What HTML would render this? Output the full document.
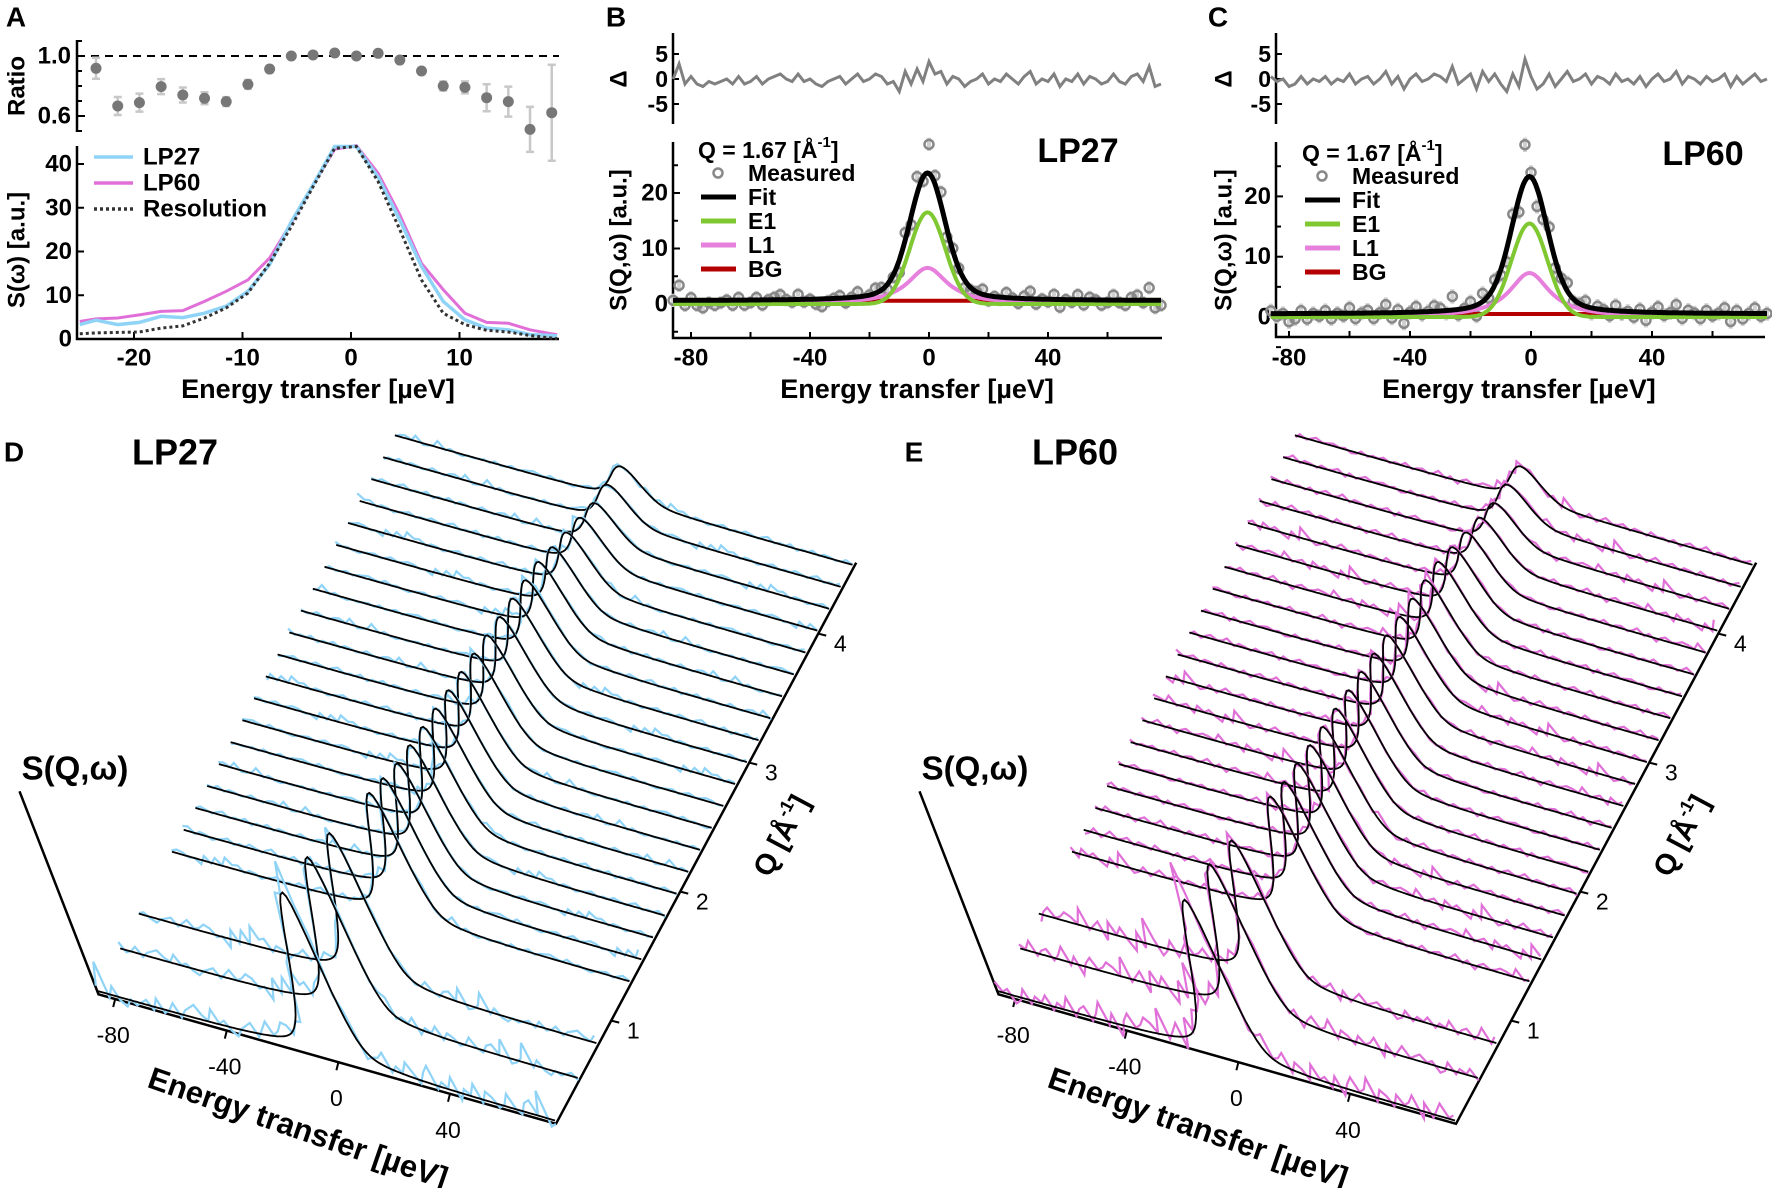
<!DOCTYPE html>
<html><head><meta charset="utf-8"><style>
html,body{margin:0;padding:0;background:#fff}
svg{display:block;font-family:"Liberation Sans",Arial,sans-serif}
</style></head><body>
<svg id="fig" width="1772" height="1188" viewBox="0 0 1772 1188"></svg>
<script>
// ---------- Panel A data ----------
const aRatioE = [-23.5,-21.5,-19.5,-17.5,-15.5,-13.5,-11.5,-9.5,-7.5,-5.5,-3.5,-1.5,0.5,2.5,4.5,6.5,8.5,10.5,12.5,14.5,16.5,18.5];
const aRatio = [0.918,0.667,0.689,0.796,0.74,0.718,0.696,0.811,0.913,1.0,1.007,1.02,1.0,1.018,0.973,0.9,0.8,0.791,0.722,0.696,0.511,0.622];
const aRatioErr = [0.07,0.06,0.06,0.05,0.05,0.04,0.03,0.03,0.02,0.015,0.01,0.01,0.01,0.01,0.01,0.02,0.03,0.04,0.09,0.1,0.15,0.32];
const aLineE = [-25,-23.5,-21.5,-19.5,-17.5,-15.5,-13.5,-11.5,-9.5,-7.5,-5.5,-3.5,-1.5,0.5,2.5,4.5,6.5,8.5,10.5,12.5,14.5,16.5,18.5,19];
const aLP27 = [3.3,4.3,3.3,3.8,5.2,4.9,5.9,7.5,10.9,17,26.8,35.2,44,44,37,27.2,16.6,8.6,4.4,2.5,2.1,1,0.8,0.7];
const aLP60 = [4,4.6,4.8,5.5,6.3,6.5,8.6,10.9,13.5,18.5,26.5,35.2,43.4,44.2,37.9,28.4,17.3,11.3,5.9,3.8,3.6,2.1,1.2,1.0];
const aRes = [1.2,1.4,1.5,1.6,2.5,3.0,4.8,7.1,10.5,17.3,25.7,34.8,43.6,44,36,25,13.5,5.9,3.3,2.0,1.6,0.8,0.2,0.1];
const aXTicks = [-20,-10,0,10];
const aYTicks = [0,10,20,30,40];
// ---------- Panels B / C data ----------
const fitE0 = -86, fitStep = 2;
const resB = [0,3,-1,0.5,-1,-1.5,-0.5,-1,-0.5,0, -1,0.5,-1,-0.5,0.5,-1,0,0.5,1,0, -0.5,1,-0.5,0,-1,-1.5,-0.5,0,0.5,-1, 0,1,-0.5,0,1,0.5,-1,-0.5,-2.5,1.5, -1,2,-0.5,3.5,1,1.5,-1,0.5,0,-1.5, -0.5,0,1,-1,0,-0.5,1,0,-1,0.5, 1.5,-1,0,-0.5,1,-1.5,0,-0.5,1,-1, 0.5,0,-1,-0.5,1,-0.5,-1,0.5,1,-0.5, 2.5,-1.5,-1];
const resC = [0.5,-0.5,0,-1.5,-1,0.5,-1,0,-0.5,0.5, -1,0,-0.5,1,-1,0,0.5,-1,0,1.5, -1,0.5,-2,0,1,-0.5,0,1,0.5,-0.5, 2.5,-1,0,1,-2,1.5,-0.5,1,-1,-2.5, 1,-1.5,4,0.5,-2,-1,1,-1.5,0,1.5, -0.5,0,1,-1,0.5,0,-1,1,-0.5,0, -1,0.5,-1.5,0,1,-0.5,0,1.5,-1,0.5, 0,-1,0.5,-0.5,0,1,-1.5,0.5,-1,0, 1,-0.5,0];
const fitB = {e1:16.5, l1:6.5, bg:0.6, c:-0.5};
const fitC = {e1:15.5, l1:7.3, bg:0.5, c:-0.5};
const bcXTicks = [-80,-40,0,40];
const bcYTicks = [0,10,20];
const dTicks = [-5,0,5];
// ---------- Panels D / E data ----------
const qRows = [0.2,0.53,0.8,1.28,1.45,1.62,1.79,1.96,2.13,2.30,2.47,2.64,2.81,2.98,3.15,3.32,3.49,3.66,3.83,4.00,4.17,4.34,4.51];
const ampD = [23,22,20.5,17.5,16.5,15.5,15,14.5,14,13.5,13,12.5,12,11.5,11,10.5,10,9,8,7,6,5.5,5];
const ampE = [22,21,19.5,17,16,15.5,15,14.5,14,13.5,13,12.5,12,11.5,11,10.5,10,9,8,7,6,5.5,5];
const noiseD = [9,6,5,2.5,2.5,2,2,2,2,2,2,2,2,2,2,2,2,2,2,2,2,2,2];
const noiseE = [9,7,6,3,3,3,2.5,2.5,2.5,2.5,2.5,2.5,2.5,2.5,2.5,2.5,2.5,2.5,2.5,2.5,2.5,2.5,2.5];
const wfETicks = [-80,-40,0,40];
const wfQTicks = [1,2,3,4];

const root = document.getElementById('fig');
const NS = root.namespaceURI;
function mk(tag, attrs, parent){
  const e = document.createElementNS(NS, tag);
  for (const k in attrs) e.setAttribute(k, attrs[k]);
  (parent || root).appendChild(e);
  return e;
}
function txt(x, y, s, size, opts, parent){
  opts = opts || {};
  const e = mk('text', {x:x, y:y, 'font-size':size, 'font-weight':opts.w || 'bold', 'text-anchor':opts.a || 'middle', 'dominant-baseline':'central', fill:'#000'}, parent);
  if (opts.rot !== undefined) e.setAttribute('transform', 'rotate(' + opts.rot + ' ' + x + ' ' + y + ')');
  e.textContent = s;
  return e;
}
function pth(pts){ return pts.map((p,i)=>(i?'L':'M')+p[0].toFixed(1)+' '+p[1].toFixed(1)).join(''); }
function gauss(E,a,c,f){ return a*Math.exp(-4*Math.LN2*(E-c)*(E-c)/(f*f)); }
function lor(E,a,c,h){ return a/(1+((E-c)/h)*((E-c)/h)); }

// ================= Panel A =================
const gA = mk('g', {});


const xA = E => 351 + E*10.85;
const yR = r => 56 + (1-r)*150;
const yA = s => 339 - s*4.375;
let t = txt(16, 17, 'A', 28, {}, gA);


let ax = mk('path', {d:'M77 40 V132 M77 146 V339 H559', stroke:'#000', 'stroke-width':2.5, fill:'none'}, gA);


let dl = mk('line', {x1:77, x2:559, y1:yR(1), y2:yR(1), stroke:'#000', 'stroke-width':2, 'stroke-dasharray':'8 6'}, gA);


[1.1,1.0,0.9,0.8,0.7,0.6,0.5].forEach(r=>{
  const tk = mk('line', {x1:77, x2:(r===1.0||r===0.6)?85:82, y1:yR(r), y2:yR(r), stroke:'#000', 'stroke-width':2}, gA);
  
  
});
[['1.0',1.0],['0.6',0.6]].forEach(p=>{
  const l = txt(71, yR(p[1]), p[0], 24, {a:'end'}, gA);
  
  
});
t = txt(17, 86, 'Ratio', 24, {rot:-90}, gA);


aRatioE.forEach((E,i)=>{
  const eb = mk('path', {d:'M'+xA(E)+' '+yR(aRatio[i]+aRatioErr[i])+' V'+yR(aRatio[i]-aRatioErr[i])+' M'+(xA(E)-4)+' '+yR(aRatio[i]+aRatioErr[i])+' h8 M'+(xA(E)-4)+' '+yR(aRatio[i]-aRatioErr[i])+' h8', stroke:'#c8c8c8', 'stroke-width':2.5, fill:'none'}, gA);
  
  
  const c = mk('circle', {cx:xA(E), cy:yR(aRatio[i]), r:5.5, fill:'#777'}, gA);
  
  
});
aXTicks.forEach(v=>{
  const tk = mk('line', {x1:xA(v), x2:xA(v), y1:339, y2:332, stroke:'#000', 'stroke-width':2}, gA);
  
  
  const l = txt(xA(v), 358, String(v), 24, {}, gA);
  
  
});
aYTicks.forEach(v=>{
  const tk = mk('line', {x1:77, x2:84, y1:yA(v), y2:yA(v), stroke:'#000', 'stroke-width':2}, gA);
  
  
  const l = txt(72, yA(v), String(v), 24, {a:'end'}, gA);
  
  
});
t = txt(318, 389, 'Energy transfer [µeV]', 27, {}, gA);


t = txt(17, 250, 'S(ω) [a.u.]', 24, {rot:-90}, gA);


let ln = mk('path', {d:pth(aLineE.map((E,i)=>[xA(E),yA(aLP60[i])])), stroke:'#e070d8', 'stroke-width':3, fill:'none'}, gA);


ln = mk('path', {d:pth(aLineE.map((E,i)=>[xA(E),yA(aLP27[i])])), stroke:'#8fd3f7', 'stroke-width':3.5, fill:'none'}, gA);


ln = mk('path', {d:pth(aLineE.map((E,i)=>[xA(E),yA(aRes[i])])), stroke:'#333', 'stroke-width':3, fill:'none', 'stroke-dasharray':'3 3'}, gA);


[['LP27','#8fd3f7',157,''],['LP60','#e070d8',183,''],['Resolution','#333',209,'3 3']].forEach(p=>{
  const l = mk('line', {x1:94, x2:133, y1:p[2], y2:p[2], stroke:p[1], 'stroke-width':3.5, 'stroke-dasharray':p[3]}, gA);
  
  
  const tt = txt(143, p[2], p[0], 24, {a:'start'}, gA);
  
  
});

// ================= Panels B / C =================
function fitPanel(cfg){
  const g = mk('g', {});
  
  
  const xS = E => cfg.x0 + E*cfg.kx;
  const yS = s => cfg.y0 - s*cfg.ky;
  const yD = d => cfg.d0 - d*cfg.kd;
  const p = cfg.fit;
  const fitF = E => gauss(E,p.e1,p.c,14) + lor(E,p.l1,p.c,8) + p.bg;
  let l = txt(cfg.lblX, 17, cfg.letter, 28, {}, g);
  
  
  const axp = mk('path', {d:'M'+cfg.ax+' '+cfg.dTop+' V'+cfg.dBot+' M'+cfg.ax+' 142 V'+cfg.xAxY+' H'+cfg.axR, stroke:'#000', 'stroke-width':2.5, fill:'none'}, g);
  
  
  [-80,-60,-40,-20,0,20,40,60].forEach(v=>{
    const tk = mk('line', {x1:xS(v), x2:xS(v), y1:cfg.xAxY, y2:cfg.xAxY-6, stroke:'#000', 'stroke-width':2}, g);
    
    
  });
  bcXTicks.forEach(v=>{
    const tl = txt(xS(v), 358, String(v), 24, {}, g);
    
    
  });
  [-5,0,5,10,15,20,25].forEach(v=>{
    const tk = mk('line', {x1:cfg.ax, x2:cfg.ax+(v%10===0?7:5), y1:yS(v), y2:yS(v), stroke:'#000', 'stroke-width':2}, g);
    
    
  });
  bcYTicks.forEach(v=>{
    const tl = txt(cfg.ax-5, yS(v), String(v), 24, {a:'end'}, g);
    
    
  });
  dTicks.forEach(v=>{
    const tk = mk('line', {x1:cfg.ax, x2:cfg.ax+6, y1:yD(v), y2:yD(v), stroke:'#000', 'stroke-width':2}, g);
    
    
    const tl = txt(cfg.ax-5, yD(v), String(v), 23, {a:'end'}, g);
    
    
  });
  l = txt(cfg.ylX, yD(0), 'Δ', 24, {rot:-90}, g);
  
  
  l = txt(cfg.ylX, 240, 'S(Q,ω) [a.u.]', 24, {rot:-90}, g);
  
  
  l = txt(xS(-4), 389, 'Energy transfer [µeV]', 27, {}, g);
  
  
  const resid = cfg.res;
  const dl2 = mk('path', {d:pth(resid.map((d,k)=>[xS(fitE0+k*fitStep), yD(d)])), stroke:'#808080', 'stroke-width':3, fill:'none'}, g);
  
  
  resid.forEach((d,k)=>{
    const E = fitE0 + k*fitStep;
    const v = fitF(E) + d*0.9 + (Math.abs(E)<8 ? d*0.6 : 0);
    const eb = mk('line', {x1:xS(E), x2:xS(E), y1:yS(v+1.2), y2:yS(v-1.2), stroke:'#d0d0d0', 'stroke-width':4}, g);
    
    
  });
  resid.forEach((d,k)=>{
    const E = fitE0 + k*fitStep;
    const v = fitF(E) + d*0.9 + (Math.abs(E)<8 ? d*0.6 : 0);
    const c = mk('circle', {cx:xS(E), cy:yS(v), r:4.5, fill:'none', stroke:'#888', 'stroke-width':2.5}, g);
    
    
  });
  const Es = []; for (let E=-86; E<=78; E+=0.5) Es.push(E);
  let c1 = mk('path', {d:pth(Es.map(E=>[xS(E), yS(p.bg)])), stroke:'#b40000', 'stroke-width':4, fill:'none'}, g);
  
  
  c1 = mk('path', {d:pth(Es.map(E=>[xS(E), yS(lor(E,p.l1,p.c,8))])), stroke:'#e680dc', 'stroke-width':4, fill:'none'}, g);
  
  
  c1 = mk('path', {d:pth(Es.map(E=>[xS(E), yS(gauss(E,p.e1,p.c,14))])), stroke:'#80c832', 'stroke-width':4, fill:'none'}, g);
  
  
  c1 = mk('path', {d:pth(Es.map(E=>[xS(E), yS(fitF(E))])), stroke:'#000', 'stroke-width':5, fill:'none'}, g);
  
  
  // legend
  const qt = mk('text', {x:cfg.lgX, y:cfg.lgY, 'font-size':23, 'font-weight':'bold', 'dominant-baseline':'central'}, g);
  
  
  qt.appendChild(document.createTextNode('Q = 1.67 [Å'));
  const sup = mk('tspan', {dy:-8, 'font-size':15}, qt);
  
  
  sup.textContent = '-1';
  const cl = mk('tspan', {dy:8}, qt);
  
  
  cl.textContent = ']';
  const mc = mk('circle', {cx:cfg.lgX+20, cy:cfg.lgY+23, r:4.5, fill:'none', stroke:'#888', 'stroke-width':2.5}, g);
  
  
  l = txt(cfg.lgX+50, cfg.lgY+23, 'Measured', 23, {a:'start'}, g);
  
  
  [['Fit','#000'],['E1','#80c832'],['L1','#e680dc'],['BG','#b40000']].forEach((q,i)=>{
    const yy = cfg.lgY + 47 + i*24;
    const sw = mk('line', {x1:cfg.lgX+3, x2:cfg.lgX+38, y1:yy, y2:yy, stroke:q[1], 'stroke-width':5}, g);
    
    
    const tt = txt(cfg.lgX+50, yy, q[0], 23, {a:'start'}, g);
    
    
  });
  l = txt(cfg.tagX, cfg.lgY+1, cfg.tag, 34, {}, g);
  
  
}
fitPanel({name:'panel-b', letter:'B', lblX:616, x0:929, kx:2.975, y0:304, ky:5.55, d0:79, kd:5, ax:673, axR:1162, xAxY:338, dTop:33, dBot:124, ylX:619, res:resB, fit:fitB, lgX:698, lgY:150, tag:'LP27', tagX:1078});
fitPanel({name:'panel-c', letter:'C', lblX:1218, x0:1531, kx:3.025, y0:317, ky:6.03, d0:79, kd:5, ax:1276, axR:1765, xAxY:337, dTop:33, dBot:124, ylX:1224, res:resC, fit:fitC, lgX:1302, lgY:153, tag:'LP60', tagX:1703});

// ================= Panels D / E (waterfall) =================
function waterfall(cfg){
  const g = mk('g', {});
  
  
  const dx = cfg.dx;
  const P = (E,Q,s) => [dx + 324.6 + 2.79*E + 69*Q - 0.3*s, 1088 + 0.79*E - 129*Q - 0.95*s];
  let l = txt(dx+14, 452, cfg.letter, 28, {}, g);
  
  
  l = txt(dx+175, 452, cfg.tag, 36, {}, g);
  
  
  l = txt(dx+75, 768, 'S(Q,ω)', 33, {}, g);
  
  
  const c0 = P(-86,0.2,0), c1 = P(78,0.2,0), c2 = P(78,4.55,0);
  const c3 = [c0[0]-79, c0[1]-203];
  const axp = mk('path', {d:pth([c3,c0,c1,c2]), stroke:'#000', 'stroke-width':2.5, fill:'none'}, g);
  
  
  wfETicks.forEach(v=>{
    const a = P(v,0.2,0);
    const tk = mk('line', {x1:a[0], y1:a[1], x2:a[0]-2, y2:a[1]+8, stroke:'#000', 'stroke-width':2}, g);
    
    
    const tl = txt(a[0]-2, a[1]+36, String(v), 23, {w:'normal'}, g);
    
    
  });
  wfQTicks.forEach(v=>{
    const a = P(78,v,0);
    const tk = mk('line', {x1:a[0], y1:a[1], x2:a[0]+8, y2:a[1]+2, stroke:'#000', 'stroke-width':2}, g);
    
    
    const tl = txt(a[0]+22, a[1]+10, String(v), 23, {w:'normal'}, g);
    
    
  });
  const et = txt(dx+298, 1128, 'Energy transfer [µeV]', 31, {rot:19}, g);
  
  
  const qx = dx+782, qy = 836;
  const qt = mk('text', {x:qx, y:qy, 'font-size':29, 'font-weight':'bold', 'text-anchor':'middle', 'dominant-baseline':'central', transform:'rotate(-62 '+qx+' '+qy+')'}, g);
  
  
  qt.appendChild(document.createTextNode('Q [Å'));
  const sp = mk('tspan', {dy:-10, 'font-size':18}, qt);
  
  
  sp.textContent = '-1';
  const cb = mk('tspan', {dy:10}, qt);
  
  
  cb.textContent = ']';
  const amps = cfg.amps, noise = cfg.noise, res = cfg.res;
  const prof = (E,a) => gauss(E,a*0.72,-1,12) + lor(E,a*0.28,-1,8) + 0.4;
  const K = 7.6;
  for (let r = qRows.length-1; r >= 0; r--) {
    const Q = qRows[r];
    const dpts = res.map((d,k)=>{ const E = fitE0 + k*fitStep; const n = res[(k + r*11) % res.length]; return P(E, Q, prof(E, amps[r])*K + n*noise[r] + noise[r]*0.6); });
    const dl3 = mk('path', {d:pth(dpts), stroke:cfg.col, 'stroke-width':2.2, fill:'none'}, g);
    
    
    const fpts = []; for (let E=-86; E<=78; E+=1) fpts.push(P(E, Q, prof(E, amps[r])*K));
    const fl = mk('path', {d:pth(fpts), stroke:'#000', 'stroke-width':1.8, fill:'none'}, g);
    
    
  }
}
waterfall({name:'panel-d', letter:'D', tag:'LP27', dx:0, amps:ampD, noise:noiseD, res:resB, col:'#8fd3f7'});
waterfall({name:'panel-e', letter:'E', tag:'LP60', dx:900, amps:ampE, noise:noiseE, res:resC, col:'#e070d8'});
</script>
</body></html>
